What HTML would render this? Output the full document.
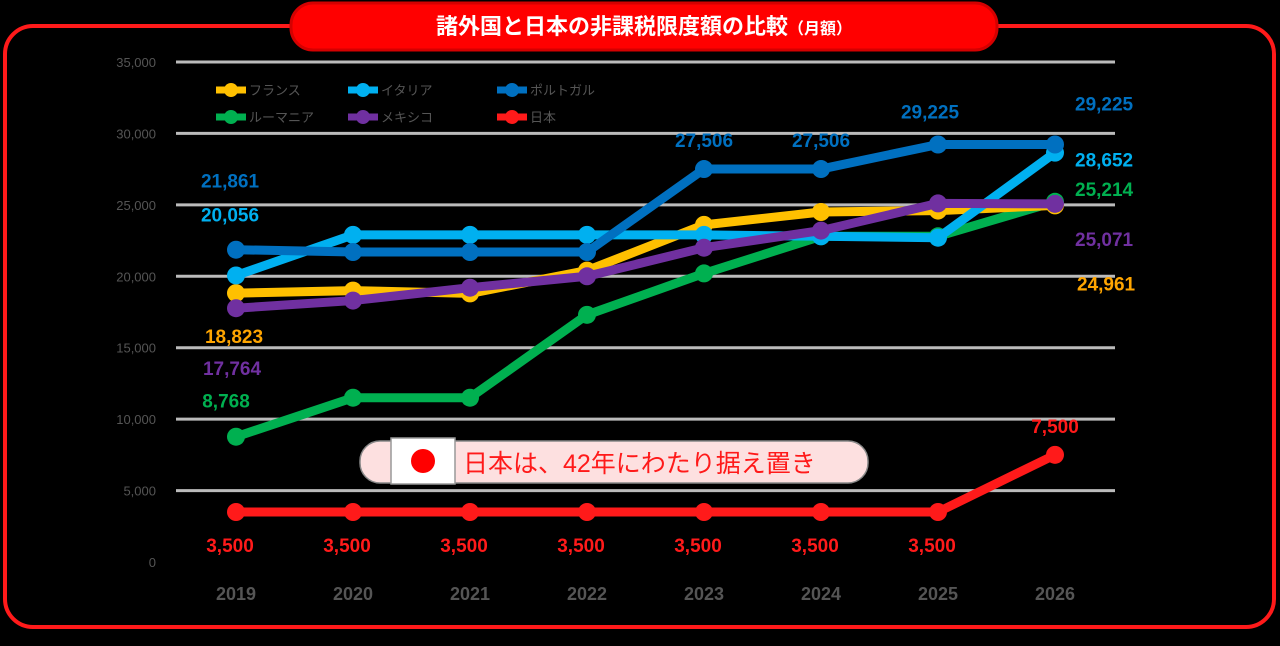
<!DOCTYPE html>
<html><head><meta charset="utf-8">
<style>
html,body{margin:0;padding:0;background:#000;}
body{width:1280px;height:646px;overflow:hidden;position:relative;font-family:"Liberation Sans","Noto Sans CJK JP",sans-serif;}
svg{position:absolute;left:0;top:0;}
</style></head>
<body>
<svg id="chart" width="1280" height="646" viewBox="0 0 1280 646">
  <rect x="5" y="26" width="1269" height="601" rx="28" fill="none" stroke="#ff1a1a" stroke-width="4"/>
  <rect x="291" y="3" width="706" height="47" rx="22" fill="#ff0000" stroke="#d40000" stroke-width="3"/>
  <text x="644" y="34" text-anchor="middle" fill="#fff" font-size="22" font-weight="bold" font-family="'Liberation Sans','Noto Sans CJK JP',sans-serif">諸外国と日本の非課税限度額の比較<tspan font-size="16">（月額）</tspan></text>
  <g id="grid"></g>
  <g id="series"></g>
  <g id="labels"></g>
  <g id="legend"></g>
  <g>
    <rect x="360" y="441" width="508" height="42" rx="20" fill="#fde0e0" stroke="#888" stroke-width="1.5"/>
    <rect x="391" y="438" width="64" height="46" fill="#fff" stroke="#999" stroke-width="1.5"/>
    <circle cx="423" cy="461" r="12" fill="#ff0000"/>
    <text x="463" y="472" fill="#ff1a1a" font-size="25" font-family="'Liberation Sans','Noto Sans CJK JP',sans-serif">日本は、42年にわたり据え置き</text>
  </g>
</svg>
<script>
const years = ["2019","2020","2021","2022","2023","2024","2025","2026"];
const yTicks = [0,5000,10000,15000,20000,25000,30000,35000];
const seriesNames = ["フランス","イタリア","ポルトガル","ルーマニア","メキシコ","日本"];
const france   = [18823,19000,18800,20400,23600,24500,24600,24961];
const italy    = [20056,22900,22900,22900,22900,22800,22700,28652];
const portugal = [21861,21700,21700,21700,27506,27506,29225,29225];
const romania  = [8768,11500,11500,17300,20200,22800,22800,25214];
const mexico   = [17764,18300,19200,20000,22000,23200,25100,25071];
const japan    = [3500,3500,3500,3500,3500,3500,3500,7500];

const NS="http://www.w3.org/2000/svg";
const x0=236, xStep=117, yBase=562, yTop=62, yMax=35000;
const xs=i=>x0+i*xStep;
const ys=v=>yBase-(v/yMax)*(yBase-yTop);
const fmt=v=>v.toLocaleString("en-US");
function mk(tag,attrs,parent){const e=document.createElementNS(NS,tag);for(const k in attrs)e.setAttribute(k,attrs[k]);parent.appendChild(e);return e;}

const grid=document.getElementById("grid");
yTicks.forEach(t=>{
  if(t>0){const l=mk("line",{x1:176,x2:1115,y1:ys(t),y2:ys(t),stroke:"#bbb","stroke-width":3},grid);
  
  }
  const tx=mk("text",{x:156,y:ys(t)+5,"text-anchor":"end",fill:"#555","font-size":13},grid);
  
  
  tx.textContent=fmt(t);
});
years.forEach((y,i)=>{
  const tx=mk("text",{x:xs(i),y:600,"text-anchor":"middle",fill:"#555","font-size":18,"font-weight":"bold"},grid);
  
  
  tx.textContent=y;
});

const allData=[france,italy,portugal,romania,mexico,japan];
const colors=["#ffc000","#00b0f0","#0070c0","#00b050","#7030a0","#ff1a1a"];
const labelColors=["#ffa500","#00b0f0","#0070c0","#00b050","#7030a0","#ff1a1a"];
const order=[3,0,1,2,4,5];
const sg=document.getElementById("series");
order.forEach(s=>{
  const d=allData[s];
  const g=mk("g",{},sg);
  
  
  const pl=mk("polyline",{points:d.map((v,i)=>xs(i)+","+ys(v)).join(" "),fill:"none",stroke:colors[s],"stroke-width":9,"stroke-linejoin":"round"},g);
  
  
  d.forEach((v,i)=>{
    const c=mk("circle",{cx:xs(i),cy:ys(v),r:9,fill:colors[s]},g);
    
    
  });
});

// labels: [series, index, dx, dy, anchor]
const lbl=[[2,0,-6,-62,"middle"],[1,0,-6,-54,"middle"],[0,0,-2,50,"middle"],[4,0,-4,67,"middle"],[3,0,-10,-29,"middle"],
[2,4,0,-22,"middle"],[2,5,0,-22,"middle"],[2,6,-8,-26,"middle"],[2,7,20,-34,"start"],[1,7,20,14,"start"],
[3,7,20,-6,"start"],[4,7,20,42,"start"],[0,7,22,85,"start"]];
const lg=document.getElementById("labels");
function addLabel(s,i,dx,dy,anchor){
  const v=allData[s][i];
  const t=mk("text",{x:xs(i)+dx,y:ys(v)+dy,"text-anchor":anchor,fill:labelColors[s],"font-size":19,"font-weight":"bold"},lg);
  
  
  t.textContent=fmt(v);
}
lbl.forEach(a=>addLabel(...a));
japan.forEach((v,i)=>{ if(i<7) addLabel(5,i,-6,40,"middle"); else addLabel(5,i,0,-22,"middle"); });

const leg=document.getElementById("legend");
const legPos=[[216,90],[348,90],[497,90],[216,117],[348,117],[497,117]];
seriesNames.forEach((n,s)=>{
  const [lx,ly]=legPos[s];
  const g=mk("g",{},leg);
  
  
  mk("line",{x1:lx,x2:lx+30,y1:ly,y2:ly,stroke:colors[s],"stroke-width":7},g);
  mk("circle",{cx:lx+15,cy:ly,r:7,fill:colors[s]},g);
  const t=mk("text",{x:lx+33,y:ly+5,fill:"#555","font-size":13},g);
  t.textContent=n;
});
</script>
</body></html>
